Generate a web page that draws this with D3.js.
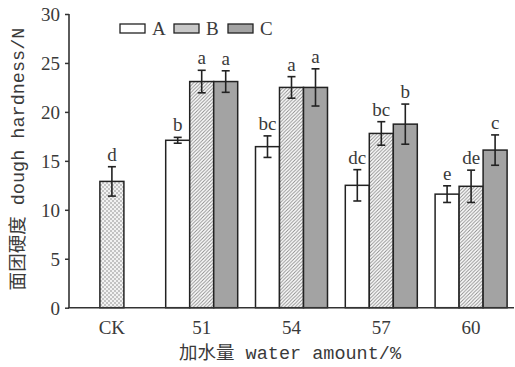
<html>
<head>
<meta charset="utf-8">
<script src="https://cdn.jsdelivr.net/npm/d3@7/dist/d3.min.js"></script>
<style>
  body { margin: 0; background: #fff; }
  .tick text { font-family: "Liberation Serif", serif; font-size: 19px; fill: #3a3a3a; }
</style>
</head>
<body>
<script>
let w = 515
let h = 367

// data
let categories = ["CK", "51", "54", "57", "60"]
let series = ["A", "B", "C"]
let ck_value = 12.9
let ck_err = 1.5
let ck_label = "d"
let a_values = [17.1, 16.45, 12.5, 11.6]
let a_errs = [0.3, 1.1, 1.6, 0.85]
let a_labels = ["b", "bc", "dc", "e"]
let b_values = [23.1, 22.5, 17.8, 12.4]
let b_errs = [1.15, 1.1, 1.2, 1.65]
let b_labels = ["a", "a", "bc", "de"]
let c_values = [23.1, 22.5, 18.75, 16.1]
let c_errs = [1.1, 1.9, 2.05, 1.55]
let c_labels = ["a", "a", "b", "c"]
let y_ticks = [0, 5, 10, 15, 20, 25, 30]

let svg = d3.select("body").append("svg")
    .attr("width", w)
    .attr("height", h)

let defs = svg.append("defs")
let dots = defs.append("pattern")
    .attr("id", "dots").attr("patternUnits", "userSpaceOnUse")
    .attr("width", 4).attr("height", 4)
dots.append("rect").attr("width", 4).attr("height", 4).attr("fill", "#f2f2f2")
dots.append("circle").attr("cx", 1).attr("cy", 1).attr("r", 0.8).attr("fill", "#888")
dots.append("circle").attr("cx", 3).attr("cy", 3).attr("r", 0.8).attr("fill", "#888")

let hatch = defs.append("pattern")
    .attr("id", "hatch").attr("patternUnits", "userSpaceOnUse")
    .attr("width", 3.5).attr("height", 3.5)
hatch.append("rect").attr("width", 3.5).attr("height", 3.5).attr("fill", "#fff")
hatch.append("path").attr("d", "M-1,1 l2,-2 M0,3.5 l3.5,-3.5 M2.5,4.5 l2,-2")
    .attr("stroke", "#888").attr("stroke-width", 0.9)

let fills = {A: "#fff", B: "url(#hatch)", C: "#a3a3a3"}

let x_scale = d3.scaleBand().domain(categories).range([67, 516])
let y_scale = d3.scaleLinear().domain([0, 30]).range([307.7, 14])
let bar_w = 24
let offsets = {A: -bar_w, B: 0, C: bar_w}

// flatten into bar records
let bars = [{cat: "CK", s: "CK", v: ck_value, e: ck_err, lab: ck_label}]
let groups = [[a_values, a_errs, a_labels], [b_values, b_errs, b_labels], [c_values, c_errs, c_labels]]
groups.forEach((g, si) => {
    g[0].forEach((v, i) => {
        bars.push({cat: categories[i + 1], s: series[si], v: v, e: g[1][i], lab: g[2][i]})
    })
})
let cx = (d) => x_scale(d.cat) + x_scale.bandwidth() / 2 + (d.s === "CK" ? 0 : offsets[d.s])

svg.selectAll("rect.bar")
    .data(bars).enter().append("rect")
    .attr("class", "bar")
    .attr("x", (d) => cx(d) - bar_w / 2)
    .attr("width", bar_w)
    .attr("y", (d) => y_scale(d.v))
    .attr("height", (d) => y_scale(0) - y_scale(d.v))
    .attr("fill", (d) => d.s === "CK" ? "url(#dots)" : fills[d.s])
    .attr("stroke", "#222").attr("stroke-width", 1.5)

// error bars
let err = svg.selectAll("g.err").data(bars).enter().append("g")
    .attr("stroke", "#222").attr("stroke-width", 1.6)
err.append("line")
    .attr("x1", cx).attr("x2", cx)
    .attr("y1", (d) => y_scale(d.v + d.e)).attr("y2", (d) => y_scale(d.v - d.e))
err.append("line")
    .attr("x1", (d) => cx(d) - 4).attr("x2", (d) => cx(d) + 4)
    .attr("y1", (d) => y_scale(d.v + d.e)).attr("y2", (d) => y_scale(d.v + d.e))
err.append("line")
    .attr("x1", (d) => cx(d) - 4).attr("x2", (d) => cx(d) + 4)
    .attr("y1", (d) => y_scale(d.v - d.e)).attr("y2", (d) => y_scale(d.v - d.e))

svg.selectAll("text.sig")
    .data(bars).enter().append("text")
    .attr("class", "sig")
    .attr("x", cx)
    .attr("y", (d) => y_scale(d.v + d.e) - 6)
    .attr("text-anchor", "middle")
    .attr("font-family", "Liberation Serif, serif")
    .attr("font-size", 19).attr("fill", "#3a3a3a")
    .text((d) => d.lab)

// axes
let y_axis = d3.axisLeft(y_scale).tickValues(y_ticks).tickSize(4).tickPadding(5)
let yg = svg.append("g").attr("transform", "translate(69,0)").call(y_axis)
yg.select(".domain").remove()
yg.selectAll(".tick line").attr("stroke", "#333").attr("stroke-width", 1.5)
yg.selectAll(".tick text").attr("dy", "0.35em")

let x_axis = d3.axisBottom(x_scale).tickSize(0).tickPadding(13)
let xg = svg.append("g").attr("transform", "translate(0," + y_scale(0) + ")").call(x_axis)
xg.select(".domain").remove()

svg.append("line").attr("x1", 69).attr("x2", 69)
    .attr("y1", y_scale(30)).attr("y2", y_scale(0))
    .attr("stroke", "#333").attr("stroke-width", 1.6)
svg.append("line").attr("x1", 68).attr("x2", 514)
    .attr("y1", y_scale(0)).attr("y2", y_scale(0))
    .attr("stroke", "#333").attr("stroke-width", 1.6)

// axis titles
let xt = svg.append("text").attr("x", 290).attr("y", 359)
    .attr("text-anchor", "middle").attr("font-size", 18.5).attr("fill", "#3a3a3a")
xt.append("tspan").attr("font-family", "Noto Sans CJK SC").text("加水量")
xt.append("tspan").attr("font-family", "Liberation Mono, monospace").text(" water amount/%")

let yt = svg.append("text")
    .attr("transform", "translate(24,159) rotate(-90)")
    .attr("text-anchor", "middle").attr("font-size", 18.5).attr("fill", "#3a3a3a")
yt.append("tspan").attr("font-family", "Noto Sans CJK SC").text("面团硬度")
yt.append("tspan").attr("font-family", "Liberation Mono, monospace").text(" dough hardness/N")

// legend
let legend = svg.selectAll("g.legend").data(series).enter().append("g")
    .attr("transform", (d, i) => "translate(" + (120 + i * 54) + ",24)")
legend.append("rect").attr("width", 25).attr("height", 9)
    .attr("fill", (d) => d === "B" ? "#c8c8c8" : fills[d])
    .attr("stroke", "#222").attr("stroke-width", 1.3)
legend.append("text").attr("x", 32).attr("y", 11)
    .attr("font-family", "Liberation Serif, serif").attr("font-size", 19).attr("fill", "#3a3a3a")
    .text((d) => d)
</script>
</body>
</html>
